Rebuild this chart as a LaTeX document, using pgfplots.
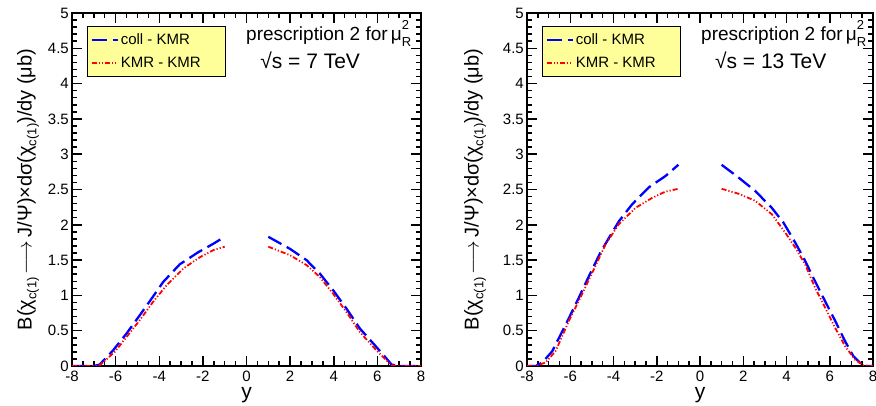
\documentclass[border=0pt]{standalone}
\usepackage{pgfplots}
\pgfplotsset{compat=1.18}
\usepackage{fontspec}
\setmainfont{Liberation Sans}
\definecolor{legy}{RGB}{255,255,153}
\definecolor{rblue}{RGB}{0,0,255}
\definecolor{rred}{RGB}{255,0,0}
\newcommand{\sub}[1]{\raisebox{-0.45ex}{\fontsize{13}{13}\selectfont #1}}
\newcommand{\muR}{μ\makebox[0pt][l]{\raisebox{1.05ex}{\fontsize{13}{13}\selectfont 2}}\raisebox{-0.65ex}{\fontsize{13}{13}\selectfont R}}
\newcommand{\ylab}{B(χ\sub{c(1)}\,$\longrightarrow$\,J/Ψ)×dσ(χ\sub{c(1)})/dy (μb)}

\tikzset{
  bluec/.style={draw=rblue, color=rblue, line width=2.3pt, dash pattern=on 15pt off 6pt},
  redc/.style={draw=rred, color=rred, line width=1.8pt, dash pattern=on 5pt off 2pt on 1.2pt off 2pt on 1.2pt off 2pt},
}

\pgfplotsset{
  rootframe/.style={
    scale only axis, height=353pt,
    xmin=-8, xmax=8, ymin=0, ymax=5,
    xtick={-8,-6,-4,-2,0,2,4,6,8},
    ytick={0,0.5,1,1.5,2,2.5,3,3.5,4,4.5,5},
    minor x tick num=3, minor y tick num=4,
    major tick length=10pt, minor tick length=5pt,
    axis line style={line width=1.5pt},
    every tick/.append style={line width=1.5pt, black},
    tick label style={font=\fontsize{15}{15}\selectfont},
    xticklabel style={anchor=base, yshift=-16pt, inner sep=0pt},
    yticklabel style={anchor=east, xshift=-3pt, inner sep=0pt},
    xlabel={y},
    xlabel style={at={(axis description cs:0.5,-0.093)}, anchor=base, font=\fontsize{21}{21}\selectfont},
    ylabel={\ylab},
    legend cell align=left,
    legend image code/.code={\draw[##1] (0pt,0pt) -- (26pt,0pt);},
    legend style={anchor=north west, fill=legy, draw=black, line width=1pt,
      inner xsep=3pt, inner ysep=5pt, row sep=7pt, font=\fontsize{15}{16}\selectfont},
    /pgf/number format/assume math mode=true,
  },
}

\begin{document}
\begin{tikzpicture}
\useasboundingbox (0,0) rectangle (876pt,406pt);

% ---------------- left: 7 TeV ----------------
\begin{axis}[rootframe, width=349pt, at={(72pt,40pt)}, anchor=south west,
  ylabel style={at={(axis description cs:-0.126,0.5)}, anchor=center, font=\fontsize{20}{22}\selectfont},
  legend style={at={(0.043,0.962)}}]
\addplot[bluec] coordinates {
(-8,0) (-7.5,0) (-7,0) (-6.73,0.02) (-6.12,0.22) (-5.5,0.46) (-4.89,0.72) (-4.36,0.95)
(-3.82,1.19) (-3.06,1.44) (-2.22,1.61) (-1.53,1.73) (-1.0,1.83)};
\addlegendentry{\makebox[100pt][l]{coll - KMR}}
\addplot[redc] coordinates {
(-8,0) (-7.5,0) (-7,0) (-6.73,0.01) (-6.04,0.20) (-5.5,0.41) (-4.89,0.65) (-4.28,0.91)
(-3.67,1.14) (-2.9,1.38) (-2.14,1.54) (-1.53,1.64) (-1.0,1.69)};
\addlegendentry{\makebox[100pt][l]{KMR - KMR}}
\addplot[bluec, forget plot] coordinates {
(1.0,1.83) (1.99,1.66) (2.75,1.50) (3.36,1.31) (3.98,1.07) (4.59,0.81) (5.2,0.53)
(5.81,0.32) (6.35,0.13) (6.65,0.02) (7,0) (7.5,0) (8,0)};
\addplot[redc, forget plot] coordinates {
(1.0,1.69) (1.99,1.57) (2.75,1.43) (3.36,1.26) (3.98,1.02) (4.59,0.76) (5.2,0.48)
(5.81,0.27) (6.35,0.10) (6.65,0.01) (7,0) (7.5,0) (8,0)};
\node[anchor=base west, font=\fontsize{19}{19}\selectfont, inner sep=0pt] at (axis description cs:0.4986,0.9235) {prescription 2 for\,\muR};
\node[anchor=base west, font=\fontsize{21}{21}\selectfont, inner sep=0pt] at (axis description cs:0.539,0.844) {√s = 7 TeV};
\end{axis}

% ---------------- right: 13 TeV ----------------
\begin{axis}[rootframe, width=346pt, at={(527pt,40pt)}, anchor=south west,
  ylabel style={at={(axis description cs:-0.150,0.5)}, anchor=center, font=\fontsize{20}{22}\selectfont},
  legend style={at={(0.0434,0.962)}}]
\addplot[bluec] coordinates {
(-8,0) (-7.6,0) (-7.29,0.05) (-6.83,0.21) (-6.06,0.68) (-5.6,0.97) (-5.14,1.27) (-4.6,1.61)
(-4.22,1.81) (-3.75,2.05) (-3.14,2.29) (-2.37,2.53) (-1.6,2.69) (-1.0,2.85)};
\addlegendentry{\makebox[100pt][l]{coll - KMR}}
\addplot[redc] coordinates {
(-8,0) (-7.6,0) (-7.14,0.05) (-6.68,0.21) (-6.06,0.64) (-5.45,1.02) (-4.83,1.42) (-4.37,1.72)
(-3.75,2.01) (-2.98,2.24) (-2.22,2.38) (-1.6,2.47) (-1.0,2.51)};
\addlegendentry{\makebox[100pt][l]{KMR - KMR}}
\addplot[bluec, forget plot] coordinates {
(1.0,2.85) (1.78,2.67) (2.55,2.48) (3.32,2.24) (3.86,2.03) (4.4,1.75) (4.86,1.49)
(5.32,1.20) (5.78,0.92) (6.25,0.64) (6.71,0.35) (7.09,0.14) (7.48,0.02) (7.7,0) (8,0)};
\addplot[redc, forget plot] coordinates {
(1.0,2.51) (1.78,2.44) (2.55,2.34) (3.32,2.15) (3.94,1.89) (4.4,1.68) (4.86,1.44)
(5.32,1.11) (5.78,0.83) (6.25,0.54) (6.71,0.28) (7.17,0.09) (7.55,0.01) (7.8,0) (8,0)};
\node[anchor=base west, font=\fontsize{19}{19}\selectfont, inner sep=0pt] at (axis description cs:0.503,0.9235) {prescription 2 for\,\muR};
\node[anchor=base west, font=\fontsize{21}{21}\selectfont, inner sep=0pt] at (axis description cs:0.543,0.844) {√s = 13 TeV};
\end{axis}
\end{tikzpicture}
\end{document}
